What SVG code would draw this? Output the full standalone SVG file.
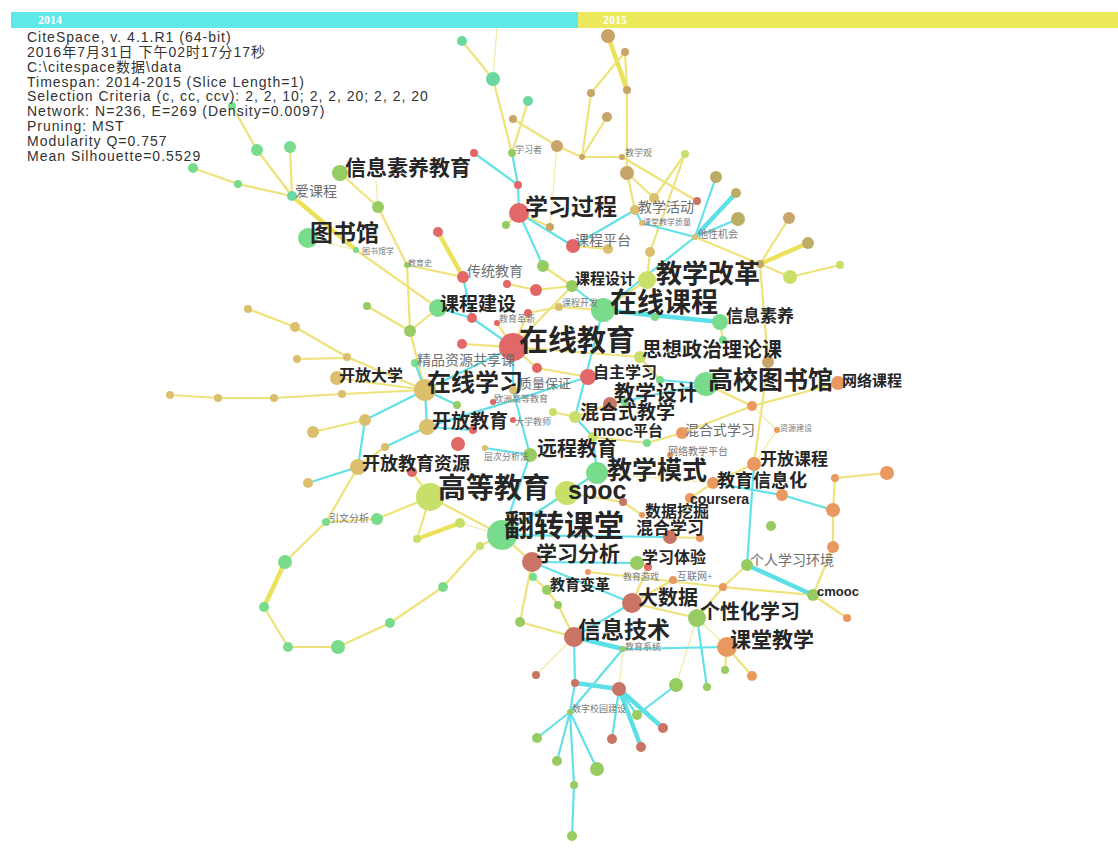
<svg xmlns="http://www.w3.org/2000/svg" width="1118" height="850" viewBox="0 0 1118 850">
<style>
.y{stroke:#eee37a;stroke-width:2.2;fill:none;stroke-linecap:round}
.yt{stroke:#ebe15a;stroke-width:4.5;stroke-linecap:round}
.yl{stroke:#f2eaa6;stroke-width:1.2}
.c{stroke:#62e2e8;stroke-width:2.2;stroke-linecap:round}
.ct{stroke:#5cdfe6;stroke-width:4.5;stroke-linecap:round}
.g1{fill:#78dc8c}.g2{fill:#96cc62}.yg{fill:#c8df6a}.tan{fill:#dcbf6c}.olive{fill:#bcad66}
.brn{fill:#c9a468}.org{fill:#e9985f}.red{fill:#e26767}.rb{fill:#c97464}.cg{fill:#6ad8a0}
.L{font-family:"Liberation Serif","Noto Sans CJK SC",serif;font-weight:700;fill:#262626}
.S{font-family:"Liberation Serif","Noto Sans CJK SC",serif;fill:#6e6e6e}
.T{font-family:"Liberation Serif","Noto Sans CJK SC",serif;fill:#7a7a7a}
.E{font-family:"Liberation Sans",Arial,sans-serif;font-weight:700;fill:#262626}
.H{font-family:"Liberation Sans","Noto Sans CJK SC",sans-serif;font-size:14px;letter-spacing:1px;fill:#333}
.yr{font-family:"Liberation Serif",serif;font-weight:700;font-size:12px;fill:#ffffff}
</style>
<rect width="1118" height="850" fill="#ffffff"/>
<g id="timebar">
<rect x="11" y="12" width="567" height="16" fill="#5ee8e8"/>
<rect x="578" y="12" width="540" height="16" fill="#ecea5c"/>
<text class="yr" x="38" y="24">2014</text>
<text class="yr" x="603" y="24">2015</text>
</g>
<g id="connectors">
<line class="y" x1="462" y1="41" x2="493" y2="79"/>
<line class="yl" x1="493" y1="79" x2="497" y2="28"/>
<line class="y" x1="493" y1="79" x2="512" y2="153"/>
<line class="y" x1="528" y1="101" x2="512" y2="153"/>
<line class="y" x1="513" y1="119" x2="557" y2="146"/>
<line class="y" x1="625" y1="52" x2="627" y2="90"/>
<line class="yt" x1="608" y1="36" x2="627" y2="90"/>
<line class="y" x1="625" y1="52" x2="591" y2="93"/>
<line class="y" x1="591" y1="93" x2="582" y2="157"/>
<line class="y" x1="607" y1="117" x2="582" y2="157"/>
<line class="y" x1="627" y1="90" x2="627" y2="173"/>
<line class="y" x1="557" y1="146" x2="582" y2="157"/>
<line class="y" x1="582" y1="157" x2="622" y2="157"/>
<line class="y" x1="622" y1="157" x2="697" y2="201"/>
<line class="y" x1="627" y1="173" x2="654" y2="198"/>
<line class="y" x1="654" y1="198" x2="685" y2="154"/>
<line class="y" x1="627" y1="173" x2="635" y2="210"/>
<line class="y" x1="232" y1="106" x2="257" y2="150"/>
<line class="y" x1="193" y1="168" x2="238" y2="184"/>
<line class="y" x1="238" y1="184" x2="292" y2="196"/>
<line class="y" x1="257" y1="150" x2="292" y2="196"/>
<line class="y" x1="290" y1="147" x2="292" y2="196"/>
<line class="yt" x1="292" y1="196" x2="356" y2="250"/>
<line class="y" x1="356" y1="250" x2="438" y2="308"/>
<line class="yl" x1="308" y1="238" x2="356" y2="250"/>
<line class="y" x1="340" y1="173" x2="378" y2="207"/>
<line class="yl" x1="378" y1="207" x2="376" y2="180"/>
<line class="y" x1="378" y1="207" x2="407" y2="265"/>
<line class="y" x1="407" y1="265" x2="410" y2="331"/>
<line class="y" x1="407" y1="265" x2="463" y2="277"/>
<line class="yt" x1="438" y1="232" x2="463" y2="277"/>
<line class="y" x1="367" y1="306" x2="410" y2="331"/>
<line class="y" x1="410" y1="331" x2="438" y2="308"/>
<line class="y" x1="410" y1="331" x2="425" y2="390"/>
<line class="y" x1="248" y1="309" x2="295" y2="327"/>
<line class="y" x1="295" y1="327" x2="347" y2="357"/>
<line class="y" x1="297" y1="359" x2="347" y2="358"/>
<line class="y" x1="347" y1="357" x2="425" y2="390"/>
<line class="y" x1="337" y1="378" x2="425" y2="390"/>
<line class="y" x1="342" y1="394" x2="425" y2="390"/>
<line class="y" x1="274" y1="398" x2="342" y2="394"/>
<line class="y" x1="218" y1="398" x2="274" y2="398"/>
<line class="y" x1="170" y1="395" x2="218" y2="398"/>
<line class="y" x1="313" y1="432" x2="365" y2="420"/>
<line class="y" x1="385" y1="447" x2="358" y2="467"/>
<line class="y" x1="358" y1="467" x2="326" y2="522"/>
<line class="y" x1="326" y1="522" x2="285" y2="562"/>
<line class="yt" x1="285" y1="562" x2="264" y2="607"/>
<line class="y" x1="264" y1="607" x2="288" y2="647"/>
<line class="y" x1="288" y1="647" x2="338" y2="647"/>
<line class="y" x1="338" y1="647" x2="390" y2="623"/>
<line class="y" x1="390" y1="623" x2="443" y2="587"/>
<line class="y" x1="443" y1="587" x2="480" y2="546"/>
<line class="y" x1="480" y1="546" x2="502" y2="535"/>
<line class="y" x1="326" y1="522" x2="377" y2="519"/>
<line class="y" x1="377" y1="519" x2="430" y2="497"/>
<line class="y" x1="430" y1="497" x2="417" y2="539"/>
<line class="yt" x1="417" y1="539" x2="460" y2="523"/>
<line class="yl" x1="460" y1="523" x2="502" y2="535"/>
<line class="y" x1="430" y1="497" x2="502" y2="535"/>
<line class="y" x1="430" y1="497" x2="412" y2="472"/>
<line class="yl" x1="412" y1="472" x2="358" y2="467"/>
<line class="y" x1="519" y1="213" x2="550" y2="227"/>
<line class="yl" x1="550" y1="227" x2="557" y2="146"/>
<line class="y" x1="519" y1="213" x2="506" y2="225"/>
<line class="y" x1="572" y1="286" x2="543" y2="266"/>
<line class="y" x1="572" y1="286" x2="536" y2="290"/>
<line class="y" x1="536" y1="290" x2="507" y2="284"/>
<line class="y" x1="573" y1="246" x2="608" y2="249"/>
<line class="y" x1="650" y1="252" x2="647" y2="280"/>
<line class="y" x1="650" y1="252" x2="685" y2="154"/>
<line class="y" x1="647" y1="280" x2="603" y2="310"/>
<line class="y" x1="603" y1="310" x2="559" y2="307"/>
<line class="y" x1="559" y1="307" x2="528" y2="313"/>
<line class="y" x1="695" y1="237" x2="760" y2="264"/>
<line class="y" x1="760" y1="264" x2="789" y2="218"/>
<line class="yt" x1="760" y1="264" x2="808" y2="243"/>
<line class="y" x1="760" y1="264" x2="790" y2="277"/>
<line class="y" x1="790" y1="277" x2="840" y2="265"/>
<line class="y" x1="760" y1="264" x2="768" y2="362"/>
<line class="y" x1="768" y1="362" x2="754" y2="464"/>
<line class="y" x1="720" y1="322" x2="723" y2="340"/>
<line class="y" x1="513" y1="347" x2="640" y2="357"/>
<line class="y" x1="513" y1="347" x2="572" y2="286"/>
<line class="y" x1="513" y1="347" x2="537" y2="368"/>
<line class="y" x1="537" y1="368" x2="588" y2="377"/>
<line class="y" x1="513" y1="347" x2="462" y2="344"/>
<line class="y" x1="513" y1="347" x2="497" y2="323"/>
<line class="y" x1="513" y1="347" x2="528" y2="313"/>
<line class="y" x1="640" y1="357" x2="660" y2="380"/>
<line class="y" x1="610" y1="404" x2="625" y2="402"/>
<line class="y" x1="610" y1="404" x2="575" y2="417"/>
<line class="y" x1="575" y1="417" x2="553" y2="412"/>
<line class="y" x1="593" y1="437" x2="647" y2="443"/>
<line class="y" x1="647" y1="443" x2="682" y2="433"/>
<line class="y" x1="682" y1="433" x2="752" y2="406"/>
<line class="y" x1="752" y1="406" x2="838" y2="383"/>
<line class="y" x1="752" y1="406" x2="706" y2="384"/>
<line class="yl" x1="752" y1="406" x2="777" y2="430"/>
<line class="yl" x1="777" y1="430" x2="754" y2="464"/>
<line class="y" x1="597" y1="473" x2="567" y2="493"/>
<line class="y" x1="567" y1="493" x2="502" y2="535"/>
<line class="y" x1="567" y1="493" x2="623" y2="502"/>
<line class="y" x1="623" y1="502" x2="642" y2="515"/>
<line class="yl" x1="597" y1="473" x2="713" y2="483"/>
<line class="y" x1="502" y1="535" x2="532" y2="562"/>
<line class="y" x1="532" y1="562" x2="533" y2="577"/>
<line class="y" x1="533" y1="577" x2="547" y2="590"/>
<line class="y" x1="547" y1="590" x2="558" y2="605"/>
<line class="y" x1="558" y1="605" x2="574" y2="637"/>
<line class="y" x1="532" y1="562" x2="520" y2="622"/>
<line class="y" x1="632" y1="603" x2="697" y2="618"/>
<line class="y" x1="632" y1="603" x2="673" y2="580"/>
<line class="y" x1="632" y1="603" x2="648" y2="567"/>
<line class="y" x1="648" y1="567" x2="637" y2="563"/>
<line class="y" x1="670" y1="537" x2="700" y2="538"/>
<line class="y" x1="690" y1="498" x2="713" y2="483"/>
<line class="y" x1="690" y1="498" x2="670" y2="537"/>
<line class="y" x1="754" y1="464" x2="713" y2="483"/>
<line class="y" x1="588" y1="572" x2="723" y2="587"/>
<line class="y" x1="723" y1="587" x2="697" y2="618"/>
<line class="y" x1="723" y1="587" x2="813" y2="595"/>
<line class="y" x1="723" y1="587" x2="747" y2="565"/>
<line class="y" x1="813" y1="595" x2="847" y2="618"/>
<line class="y" x1="813" y1="595" x2="833" y2="547"/>
<line class="y" x1="833" y1="547" x2="833" y2="510"/>
<line class="y" x1="833" y1="510" x2="835" y2="478"/>
<line class="y" x1="835" y1="478" x2="887" y2="473"/>
<line class="yl" x1="697" y1="618" x2="676" y2="685"/>
<line class="yl" x1="697" y1="618" x2="727" y2="647"/>
<line class="y" x1="727" y1="647" x2="725" y2="670"/>
<line class="y" x1="727" y1="647" x2="752" y2="676"/>
<line class="yl" x1="574" y1="637" x2="536" y2="675"/>
<line class="y" x1="574" y1="637" x2="520" y2="622"/>
<line class="yl" x1="623" y1="649" x2="619" y2="689"/>
<line class="c" x1="474" y1="153" x2="518" y2="185"/>
<line class="c" x1="512" y1="153" x2="518" y2="185"/>
<line class="c" x1="518" y1="185" x2="519" y2="213"/>
<line class="c" x1="519" y1="213" x2="543" y2="266"/>
<line class="c" x1="519" y1="213" x2="573" y2="246"/>
<line class="c" x1="573" y1="246" x2="635" y2="210"/>
<line class="c" x1="635" y1="210" x2="642" y2="223"/>
<line class="c" x1="642" y1="223" x2="695" y2="237"/>
<line class="c" x1="695" y1="237" x2="716" y2="177"/>
<line class="ct" x1="695" y1="237" x2="736" y2="193"/>
<line class="c" x1="695" y1="237" x2="738" y2="219"/>
<line class="c" x1="695" y1="237" x2="603" y2="310"/>
<line class="c" x1="463" y1="277" x2="472" y2="318"/>
<line class="c" x1="438" y1="308" x2="472" y2="318"/>
<line class="c" x1="472" y1="318" x2="513" y2="347"/>
<line class="c" x1="572" y1="286" x2="603" y2="310"/>
<line class="ct" x1="603" y1="310" x2="720" y2="322"/>
<line class="c" x1="603" y1="310" x2="655" y2="317"/>
<line class="c" x1="425" y1="390" x2="513" y2="347"/>
<line class="c" x1="425" y1="390" x2="415" y2="363"/>
<line class="c" x1="425" y1="390" x2="427" y2="427"/>
<line class="c" x1="425" y1="390" x2="365" y2="420"/>
<line class="c" x1="425" y1="390" x2="457" y2="405"/>
<line class="c" x1="365" y1="420" x2="358" y2="467"/>
<line class="c" x1="308" y1="483" x2="358" y2="467"/>
<line class="c" x1="427" y1="427" x2="385" y2="447"/>
<line class="c" x1="427" y1="427" x2="588" y2="377"/>
<line class="c" x1="427" y1="427" x2="473" y2="430"/>
<line class="c" x1="513" y1="390" x2="513" y2="347"/>
<line class="c" x1="530" y1="455" x2="513" y2="390"/>
<line class="c" x1="530" y1="455" x2="502" y2="535"/>
<line class="c" x1="530" y1="455" x2="485" y2="448"/>
<line class="c" x1="502" y1="535" x2="597" y2="473"/>
<line class="c" x1="597" y1="473" x2="593" y2="437"/>
<line class="c" x1="593" y1="437" x2="575" y2="417"/>
<line class="c" x1="575" y1="417" x2="603" y2="310"/>
<line class="c" x1="610" y1="404" x2="706" y2="384"/>
<line class="c" x1="706" y1="384" x2="660" y2="380"/>
<line class="c" x1="670" y1="537" x2="502" y2="535"/>
<line class="c" x1="632" y1="603" x2="532" y2="562"/>
<line class="c" x1="637" y1="563" x2="532" y2="562"/>
<line class="c" x1="632" y1="603" x2="574" y2="637"/>
<line class="ct" x1="574" y1="637" x2="623" y2="649"/>
<line class="c" x1="623" y1="649" x2="727" y2="647"/>
<line class="c" x1="574" y1="637" x2="575" y2="683"/>
<line class="ct" x1="575" y1="683" x2="619" y2="689"/>
<line class="c" x1="619" y1="689" x2="612" y2="739"/>
<line class="ct" x1="619" y1="689" x2="641" y2="747"/>
<line class="ct" x1="619" y1="689" x2="663" y2="728"/>
<line class="c" x1="619" y1="689" x2="637" y2="715"/>
<line class="c" x1="637" y1="715" x2="676" y2="685"/>
<line class="c" x1="697" y1="618" x2="707" y2="687"/>
<line class="c" x1="575" y1="683" x2="570" y2="712"/>
<line class="c" x1="623" y1="649" x2="570" y2="712"/>
<line class="c" x1="570" y1="712" x2="537" y2="738"/>
<line class="c" x1="570" y1="712" x2="557" y2="761"/>
<line class="c" x1="570" y1="712" x2="597" y2="769"/>
<line class="c" x1="570" y1="712" x2="574" y2="785"/>
<line class="c" x1="574" y1="785" x2="572" y2="836"/>
<line class="c" x1="747" y1="565" x2="754" y2="464"/>
<line class="ct" x1="747" y1="565" x2="813" y2="595"/>
<line class="c" x1="713" y1="483" x2="782" y2="495"/>
<line class="c" x1="782" y1="495" x2="833" y2="510"/>
</g>
<g id="minor-nodes">
<g id="t1"><circle class="brn" cx="608" cy="36" r="7"/></g>
<g id="t2"><circle class="brn" cx="625" cy="52" r="4"/></g>
<g id="t3"><circle class="brn" cx="627" cy="90" r="4"/></g>
<g id="t4"><circle class="brn" cx="591" cy="93" r="4"/></g>
<g id="t5"><circle class="brn" cx="607" cy="117" r="5"/></g>
<g id="t6"><circle class="cg" cx="462" cy="41" r="5"/></g>
<g id="t7"><circle class="cg" cx="493" cy="79" r="7"/></g>
<g id="t8"><circle class="cg" cx="528" cy="101" r="5"/></g>
<g id="t9"><circle class="brn" cx="513" cy="119" r="4"/></g>
<g id="a0"><circle class="g1" cx="232" cy="106" r="4"/></g>
<g id="a1"><circle class="g1" cx="193" cy="168" r="5"/></g>
<g id="a2"><circle class="g1" cx="238" cy="184" r="4"/></g>
<g id="a3"><circle class="g1" cx="257" cy="150" r="6"/></g>
<g id="a4"><circle class="g1" cx="290" cy="147" r="6"/></g>
<g id="u49"><circle class="g2" cx="378" cy="207" r="6"/></g>
<g id="u50"><circle class="red" cx="438" cy="232" r="5"/></g>
<g id="r1"><circle class="red" cx="474" cy="153" r="4"/></g>
<g id="u1"><circle class="brn" cx="557" cy="146" r="6"/></g>
<g id="u2"><circle class="brn" cx="582" cy="157" r="3"/></g>
<g id="u3"><circle class="brn" cx="627" cy="173" r="7"/></g>
<g id="u4"><circle class="yg" cx="685" cy="154" r="4"/></g>
<g id="u5"><circle class="olive" cx="716" cy="177" r="6"/></g>
<g id="u6"><circle class="olive" cx="736" cy="193" r="5"/></g>
<g id="u7"><circle class="olive" cx="738" cy="219" r="7"/></g>
<g id="u8"><circle class="rb" cx="697" cy="201" r="4"/></g>
<g id="u9"><circle class="tan" cx="654" cy="198" r="5"/></g>
<g id="u10"><circle class="red" cx="518" cy="185" r="4"/></g>
<g id="u11"><circle class="brn" cx="550" cy="227" r="4"/></g>
<g id="u12"><circle class="tan" cx="608" cy="249" r="5"/></g>
<g id="u13"><circle class="tan" cx="650" cy="252" r="5"/></g>
<g id="u14"><circle class="g2" cx="543" cy="266" r="6"/></g>
<g id="u15"><circle class="g2" cx="506" cy="225" r="4"/></g>
<g id="u16"><circle class="red" cx="507" cy="284" r="4"/></g>
<g id="u17"><circle class="red" cx="536" cy="290" r="6"/></g>
<g id="u18"><circle class="g1" cx="655" cy="317" r="4"/></g>
<g id="u19"><circle class="red" cx="528" cy="313" r="4"/></g>
<g id="u20"><circle class="tan" cx="559" cy="307" r="4"/></g>
<g id="u21"><circle class="brn" cx="789" cy="218" r="6"/></g>
<g id="u22"><circle class="olive" cx="808" cy="243" r="6"/></g>
<g id="u23"><circle class="brn" cx="760" cy="264" r="4"/></g>
<g id="u24"><circle class="yg" cx="790" cy="277" r="7"/></g>
<g id="u25"><circle class="yg" cx="840" cy="265" r="4"/></g>
<g id="u26"><circle class="g1" cx="723" cy="340" r="4"/></g>
<g id="v1"><circle class="brn" cx="768" cy="362" r="6"/></g>
<g id="u27"><circle class="g2" cx="410" cy="331" r="6"/></g>
<g id="u28"><circle class="g2" cx="367" cy="306" r="4"/></g>
<g id="u29"><circle class="red" cx="472" cy="318" r="5"/></g>
<g id="u30"><circle class="red" cx="462" cy="344" r="5"/></g>
<g id="u31"><circle class="red" cx="537" cy="368" r="5"/></g>
<g id="u32"><circle class="tan" cx="347" cy="357" r="4"/></g>
<g id="u33"><circle class="tan" cx="297" cy="359" r="4"/></g>
<g id="u34"><circle class="tan" cx="342" cy="394" r="4"/></g>
<g id="u35"><circle class="tan" cx="274" cy="398" r="4"/></g>
<g id="u36"><circle class="tan" cx="218" cy="398" r="4"/></g>
<g id="u37"><circle class="tan" cx="170" cy="395" r="4"/></g>
<g id="u38"><circle class="tan" cx="365" cy="420" r="6"/></g>
<g id="u39"><circle class="tan" cx="313" cy="432" r="6"/></g>
<g id="u46"><circle class="tan" cx="248" cy="309" r="4"/></g>
<g id="u47"><circle class="tan" cx="295" cy="327" r="5"/></g>
<g id="u40"><circle class="g2" cx="457" cy="405" r="4"/></g>
<g id="u41"><circle class="red" cx="473" cy="430" r="4"/></g>
<g id="u42"><circle class="red" cx="458" cy="444" r="7"/></g>
<g id="u43"><circle class="tan" cx="385" cy="447" r="4"/></g>
<g id="u44"><circle class="red" cx="412" cy="472" r="5"/></g>
<g id="u45"><circle class="tan" cx="308" cy="483" r="5"/></g>
<g id="u51"><circle class="g1" cx="660" cy="380" r="4"/></g>
<g id="u52"><circle class="g1" cx="625" cy="402" r="4"/></g>
<g id="u53"><circle class="yg" cx="553" cy="412" r="4"/></g>
<g id="u54"><circle class="g1" cx="647" cy="443" r="4"/></g>
<g id="v2"><circle class="org" cx="752" cy="406" r="5"/></g>
<g id="v3"><circle class="org" cx="782" cy="495" r="6"/></g>
<g id="v4"><circle class="org" cx="835" cy="478" r="4"/></g>
<g id="v5"><circle class="org" cx="887" cy="473" r="7"/></g>
<g id="v6"><circle class="org" cx="833" cy="510" r="7"/></g>
<g id="v7"><circle class="org" cx="833" cy="547" r="6"/></g>
<g id="v8"><circle class="g2" cx="771" cy="526" r="5"/></g>
<g id="v9"><circle class="org" cx="847" cy="618" r="4"/></g>
<g id="v11"><circle class="org" cx="700" cy="538" r="4"/></g>
<g id="v12"><circle class="org" cx="642" cy="515" r="3"/></g>
<g id="v13"><circle class="red" cx="648" cy="567" r="4"/></g>
<g id="v14"><circle class="org" cx="588" cy="572" r="3"/></g>
<g id="v15"><circle class="g1" cx="533" cy="577" r="4"/></g>
<g id="v16"><circle class="g2" cx="558" cy="605" r="4"/></g>
<g id="v17"><circle class="g2" cx="520" cy="622" r="5"/></g>
<g id="v18"><circle class="rb" cx="536" cy="675" r="4"/></g>
<g id="v19"><circle class="rb" cx="575" cy="683" r="4"/></g>
<g id="v20"><circle class="rb" cx="619" cy="689" r="7"/></g>
<g id="v21"><circle class="g2" cx="676" cy="685" r="7"/></g>
<g id="v22"><circle class="g2" cx="707" cy="687" r="4"/></g>
<g id="v23"><circle class="g2" cx="725" cy="670" r="4"/></g>
<g id="v33"><circle class="org" cx="752" cy="676" r="5"/></g>
<g id="v24"><circle class="g2" cx="637" cy="715" r="5"/></g>
<g id="v25"><circle class="rb" cx="663" cy="728" r="5"/></g>
<g id="v26"><circle class="rb" cx="612" cy="739" r="5"/></g>
<g id="v27"><circle class="rb" cx="641" cy="747" r="5"/></g>
<g id="v28"><circle class="g2" cx="537" cy="738" r="5"/></g>
<g id="v29"><circle class="g2" cx="557" cy="761" r="5"/></g>
<g id="v30"><circle class="g2" cx="597" cy="769" r="7"/></g>
<g id="v31"><circle class="g2" cx="574" cy="785" r="4"/></g>
<g id="v32"><circle class="g2" cx="572" cy="836" r="5"/></g>
<g id="u55"><circle class="g1" cx="377" cy="519" r="6"/></g>
<g id="u56"><circle class="g1" cx="285" cy="562" r="7"/></g>
<g id="u57"><circle class="g1" cx="264" cy="607" r="5"/></g>
<g id="u58"><circle class="g1" cx="288" cy="647" r="5"/></g>
<g id="u59"><circle class="g1" cx="338" cy="647" r="7"/></g>
<g id="u60"><circle class="g1" cx="390" cy="623" r="5"/></g>
<g id="u61"><circle class="g1" cx="443" cy="587" r="5"/></g>
<g id="u62"><circle class="yg" cx="480" cy="546" r="4"/></g>
<g id="u63"><circle class="yg" cx="417" cy="539" r="4"/></g>
<g id="u64"><circle class="yg" cx="460" cy="523" r="5"/></g>
</g>
<g id="n-xinxisuyangjiaoyu"><circle class="g2" cx="340" cy="173" r="8"/><text class="L" x="345" y="175" font-size="21">信息素养教育</text></g>
<g id="n-aikecheng"><circle class="cg" cx="292" cy="196" r="5"/><text class="S" x="295" y="196" font-size="14">爱课程</text></g>
<g id="n-tushuguan"><circle class="g1" cx="308" cy="238" r="10"/><text class="L" x="310" y="241" font-size="23">图书馆</text></g>
<g id="n-tushuguanxue"><circle class="g1" cx="356" cy="250" r="3"/><text class="T" x="362" y="254" font-size="8">图书馆学</text></g>
<g id="n-jiaoyushi"><circle class="g2" cx="407" cy="265" r="3"/><text class="T" x="408" y="266" font-size="8">教育史</text></g>
<g id="n-chuantongjiaoyu"><circle class="red" cx="463" cy="277" r="6"/><text class="S" x="467" y="276" font-size="14">传统教育</text></g>
<g id="n-xuexizhe"><circle class="g2" cx="512" cy="153" r="4"/><text class="T" x="515" y="153" font-size="9">学习者</text></g>
<g id="n-jiaoxueguan"><circle class="brn" cx="622" cy="157" r="3"/><text class="T" x="625" y="156" font-size="9">教学观</text></g>
<g id="n-xuexiguocheng"><circle class="red" cx="519" cy="213" r="10"/><text class="L" x="525" y="215" font-size="23">学习过程</text></g>
<g id="n-jiaoxuehuodong"><circle class="tan" cx="635" cy="210" r="5"/><text class="S" x="638" y="212" font-size="14">教学活动</text></g>
<g id="n-ketangjiaoxuezhiliang"><circle class="tan" cx="642" cy="223" r="3"/><text class="T" x="643" y="225" font-size="8">课堂教学质量</text></g>
<g id="n-taxingjihui"><circle class="tan" cx="695" cy="237" r="3"/><text class="T" x="698" y="238" font-size="10">他性机会</text></g>
<g id="n-kechengpingtai"><circle class="red" cx="573" cy="246" r="7"/><text class="S" x="575" y="245" font-size="14">课程平台</text></g>
<g id="n-kechengsheji"><circle class="g2" cx="572" cy="286" r="6"/><text class="L" x="575" y="284" font-size="15">课程设计</text></g>
<g id="n-jiaoxuegaige"><circle class="yg" cx="647" cy="280" r="9"/><text class="L" x="656" y="283" font-size="26">教学改革</text></g>
<g id="n-zaixiankecheng"><circle class="g1" cx="603" cy="310" r="12"/><text class="L" x="610" y="312" font-size="27">在线课程</text></g>
<g id="n-kechengjianshe"><circle class="g1" cx="438" cy="308" r="9"/><text class="L" x="440" y="311" font-size="19">课程建设</text></g>
<g id="n-kechengkaifa"><text class="T" x="562" y="306" font-size="9">课程开发</text></g>
<g id="n-jiaoyugexin"><circle class="red" cx="497" cy="323" r="3"/><text class="T" x="499" y="322" font-size="9">教育革新</text></g>
<g id="n-xinxisuyang"><circle class="g1" cx="720" cy="322" r="8"/><text class="L" x="726" y="322" font-size="17">信息素养</text></g>
<g id="n-zaixianjiaoyu"><circle class="red" cx="513" cy="347" r="14"/><text class="L" x="519" y="351" font-size="29">在线教育</text></g>
<g id="n-sixiangzhengzhi"><circle class="yg" cx="640" cy="357" r="6"/><text class="L" x="642" y="357" font-size="20">思想政治理论课</text></g>
<g id="n-jingpinziyuan"><circle class="g1" cx="415" cy="363" r="4"/><text class="S" x="417" y="365" font-size="14">精品资源共享课</text></g>
<g id="n-kaifangdaxue"><circle class="tan" cx="337" cy="378" r="7"/><text class="L" x="339" y="381" font-size="16">开放大学</text></g>
<g id="n-zaixianxuexi"><circle class="tan" cx="425" cy="390" r="11"/><text class="L" x="427" y="391" font-size="24">在线学习</text></g>
<g id="n-zhiliangbaozheng"><circle class="tan" cx="513" cy="390" r="4"/><text class="S" x="519" y="388" font-size="13">质量保证</text></g>
<g id="n-zizhuxuexi"><circle class="red" cx="588" cy="377" r="8"/><text class="L" x="593" y="378" font-size="16">自主学习</text></g>
<g id="n-jiaoxuesheji"><circle class="rb" cx="610" cy="404" r="7"/><text class="L" x="614" y="400" font-size="21">教学设计</text></g>
<g id="n-gaoxiaotushuguan"><circle class="g1" cx="706" cy="384" r="12"/><text class="L" x="708" y="389" font-size="25">高校图书馆</text></g>
<g id="n-wangluokecheng"><circle class="org" cx="838" cy="383" r="7"/><text class="L" x="842" y="386" font-size="15">网络课程</text></g>
<g id="n-ouzhou"><circle class="red" cx="493" cy="402" r="3"/><text class="T" x="494" y="402" font-size="9">欧洲高等教育</text></g>
<g id="n-hunheshijiaoxue"><circle class="yg" cx="575" cy="417" r="6"/><text class="L" x="580" y="419" font-size="19">混合式教学</text></g>
<g id="n-kaifangjiaoyu"><circle class="tan" cx="427" cy="427" r="8"/><text class="L" x="432" y="428" font-size="19">开放教育</text></g>
<g id="n-daxuejiaoshi"><circle class="red" cx="513" cy="420" r="3"/><text class="T" x="515" y="425" font-size="9">大学教师</text></g>
<g id="n-hunheshixuexi"><circle class="org" cx="682" cy="433" r="6"/><text class="S" x="685" y="435" font-size="14">混合式学习</text></g>
<g id="n-ziyuanjianshe"><circle class="org" cx="777" cy="430" r="3"/><text class="T" x="780" y="431" font-size="8">资源建设</text></g>
<g id="n-moocpingtai"><circle class="yg" cx="593" cy="437" r="5"/><text x="593" y="436" font-size="15"><tspan class="E">mooc</tspan><tspan class="L">平台</tspan></text></g>
<g id="n-yuanchengjiaoyu"><circle class="g2" cx="530" cy="455" r="7"/><text class="L" x="537" y="456" font-size="20">远程教育</text></g>
<g id="n-wangluojiaoxuepingtai"><circle class="org" cx="670" cy="455" r="3"/><text class="T" x="668" y="455" font-size="10">网络教学平台</text></g>
<g id="n-cengcifenxifa"><circle class="tan" cx="485" cy="448" r="3"/><text class="T" x="484" y="460" font-size="9">层次分析法</text></g>
<g id="n-kaifangjiaoyuziyuan"><circle class="tan" cx="358" cy="467" r="8"/><text class="L" x="362" y="470" font-size="18">开放教育资源</text></g>
<g id="n-kaifangkecheng"><circle class="org" cx="754" cy="464" r="7"/><text class="L" x="760" y="465" font-size="17">开放课程</text></g>
<g id="n-jiaoxuemoshi"><circle class="g1" cx="597" cy="473" r="11"/><text class="L" x="607" y="479" font-size="25">教学模式</text></g>
<g id="n-jiaoyuxinxihua"><circle class="org" cx="713" cy="483" r="6"/><text class="L" x="717" y="487" font-size="18">教育信息化</text></g>
<g id="n-gaodengjiaoyu"><circle class="yg" cx="430" cy="497" r="14"/><text class="L" x="438" y="498" font-size="28">高等教育</text></g>
<g id="n-spoc"><circle class="yg" cx="567" cy="493" r="12"/><text class="E" x="568" y="499" font-size="25">spoc</text></g>
<g id="n-coursera"><circle class="org" cx="690" cy="498" r="5"/><text class="E" x="690" y="504" font-size="14">coursera</text></g>
<g id="n-shujuwajue"><circle class="rb" cx="623" cy="502" r="4"/><text class="L" x="645" y="517" font-size="16">数据挖掘</text></g>
<g id="n-fanzhuanketang"><circle class="g1" cx="502" cy="535" r="15"/><text class="L" x="504" y="536" font-size="30">翻转课堂</text></g>
<g id="n-hunhexuexi"><circle class="rb" cx="670" cy="537" r="7"/><text class="L" x="636" y="534" font-size="17">混合学习</text></g>
<g id="n-yinwenfenxi"><circle class="g1" cx="326" cy="522" r="4"/><text class="T" x="329" y="522" font-size="10">引文分析</text></g>
<g id="n-xuexifenxi"><circle class="rb" cx="532" cy="562" r="10"/><text class="L" x="536" y="561" font-size="21">学习分析</text></g>
<g id="n-xuexitiyan"><circle class="g2" cx="637" cy="563" r="7"/><text class="L" x="642" y="563" font-size="16">学习体验</text></g>
<g id="n-gerenxuexihuanjing"><circle class="g2" cx="747" cy="565" r="6"/><text class="S" x="750" y="565" font-size="14">个人学习环境</text></g>
<g id="n-jiaoyubiange"><circle class="g2" cx="547" cy="590" r="5"/><text class="L" x="550" y="590" font-size="15">教育变革</text></g>
<g id="n-jiaoyuyouxi"><circle class="org" cx="673" cy="580" r="4"/><text class="T" x="623" y="580" font-size="9">教育游戏</text></g>
<g id="n-hulianwang"><circle class="org" cx="723" cy="587" r="4"/><text class="T" x="677" y="580" font-size="10">互联网+</text></g>
<g id="n-cmooc"><circle class="g2" cx="813" cy="595" r="6"/><text class="E" x="817" y="596" font-size="13">cmooc</text></g>
<g id="n-dashuju"><circle class="rb" cx="632" cy="603" r="10"/><text class="L" x="638" y="605" font-size="20">大数据</text></g>
<g id="n-gexinghuaxuexi"><circle class="g2" cx="697" cy="618" r="9"/><text class="L" x="700" y="619" font-size="20">个性化学习</text></g>
<g id="n-xinxijishu"><circle class="rb" cx="574" cy="637" r="10"/><text class="L" x="578" y="638" font-size="23">信息技术</text></g>
<g id="n-ketangjiaoxue"><circle class="org" cx="727" cy="647" r="10"/><text class="L" x="730" y="647" font-size="21">课堂教学</text></g>
<g id="n-jiaoyuxitong"><circle class="g2" cx="623" cy="649" r="3"/><text class="T" x="625" y="650" font-size="9">教育系统</text></g>
<g id="n-shuzixiaoyuan"><circle class="g2" cx="570" cy="712" r="3"/><text class="T" x="572" y="712" font-size="9">数字校园建设</text></g>
<g id="header">
<text class="H" x="27" y="42">CiteSpace, v. 4.1.R1 (64-bit)</text>
<text class="H" x="27" y="57">2016年7月31日 下午02时17分17秒</text>
<text class="H" x="27" y="72">C:\citespace数据\data</text>
<text class="H" x="27" y="87">Timespan: 2014-2015 (Slice Length=1)</text>
<text class="H" x="27" y="101">Selection Criteria (c, cc, ccv): 2, 2, 10; 2, 2, 20; 2, 2, 20</text>
<text class="H" x="27" y="116">Network: N=236, E=269 (Density=0.0097)</text>
<text class="H" x="27" y="131">Pruning: MST</text>
<text class="H" x="27" y="146">Modularity Q=0.757</text>
<text class="H" x="27" y="161">Mean Silhouette=0.5529</text>
</g>
</svg>
